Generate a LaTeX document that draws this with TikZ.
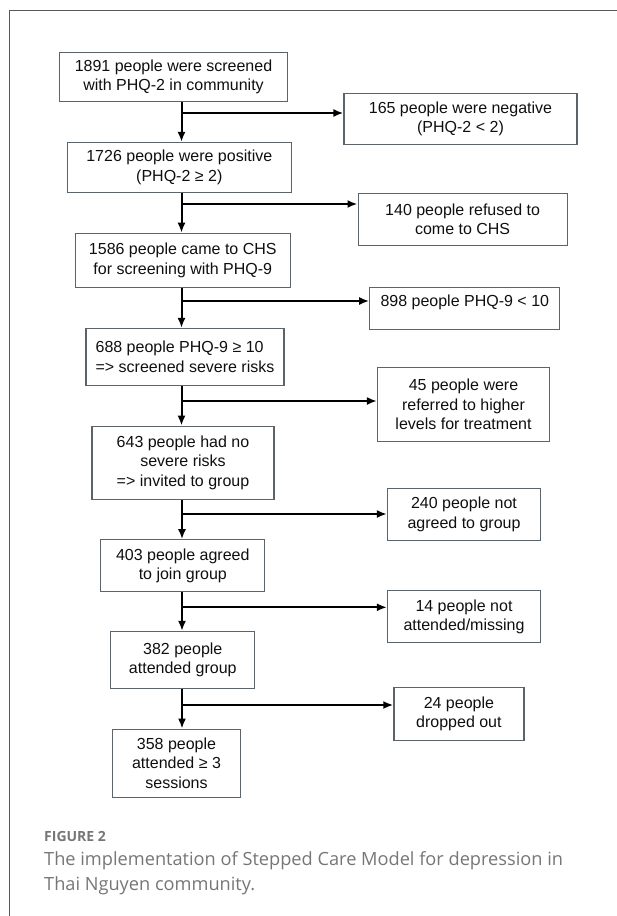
\documentclass[tikz,border=0pt]{standalone}
\usepackage{fontspec}
\setmainfont{Liberation Sans}
\newfontfamily\capfont{Open Sans}
\usepackage{tikz}
\usetikzlibrary{arrows.meta}

\definecolor{boxgray}{RGB}{90,100,106}
\definecolor{framegray}{RGB}{88,88,88}
\definecolor{capgray}{RGB}{118,118,118}
\definecolor{inkgray}{RGB}{15,15,15}

\begin{document}
\begin{tikzpicture}[x=1pt,y=-1pt,>={Latex[length=10pt,width=8pt]},
	box/.style={draw=boxgray,line width=1.2pt,inner sep=0pt,align=center,text=inkgray,font=\fontsize{16}{19.5}\selectfont},
	flow/.style={line width=2pt,->}]
	\useasboundingbox (0,0) rectangle (617,916);
	\draw[framegray,line width=1.3pt] (9.5,916)--(9.5,10.5)--(617,10.5);	%frame

	%left column
	\node[box,minimum width=228pt,minimum height=49pt] (s1) at (173.5,77)  {1891 people were screened\\with PHQ-2 in community};
	\node[box,minimum width=224pt,minimum height=50pt] (s2) at (179.3,167.5) {1726 people were positive\\(PHQ-2 ≥ 2)};
	\node[box,minimum width=215pt,minimum height=54pt] (s3) at (182.8,260.3) {1586 people came to CHS\\for screening with PHQ-9};
	\node[box,minimum width=198pt,minimum height=57pt,align=left] (s4) at (185,357) {688 people PHQ-9 ≥ 10\\=> screened severe risks};
	\node[box,minimum width=182pt,minimum height=73pt] (s5) at (183,462.7) {643 people had no\\severe risks\\=> invited to group};
	\node[box,minimum width=164pt,minimum height=52pt] (s6) at (182.8,565.8) {403 people agreed\\to join group};
	\node[box,minimum width=144pt,minimum height=57pt] (s7) at (182.8,660)   {382 people\\attended group};
	\node[box,minimum width=128pt,minimum height=68pt] (s8) at (176.5,763.2) {358 people\\attended ≥ 3\\sessions};

	%right column
	\node[box,minimum width=233pt,minimum height=51pt] (e1) at (460.5,118.8) {165 people were negative\\(PHQ-2 < 2)};
	\node[box,minimum width=209pt,minimum height=52pt] (e2) at (462.6,219.2) {140 people refused to\\come to CHS};
	\node[box,minimum width=190pt,minimum height=42pt,text height=12pt,text depth=16pt] (e3) at (464.8,308.3) {898 people PHQ-9 < 10};
	\node[box,minimum width=172pt,minimum height=74pt] (e4) at (463.5,404.5) {45 people were\\referred to higher\\levels for treatment};
	\node[box,minimum width=153pt,minimum height=52pt] (e5) at (464,514.5)   {240 people not\\agreed to group};
	\node[box,minimum width=153pt,minimum height=52pt] (e6) at (464,616.7)   {14 people not\\attended/missing};
	\node[box,minimum width=130pt,minimum height=53pt] (e7) at (458.9,713.7) {24 people\\dropped out};

	%branch points on the spine
	\coordinate (b1) at (181.5,113);
	\coordinate (b2) at (181.5,204);
	\coordinate (b3) at (181.5,301);
	\coordinate (b4) at (181.5,401);
	\coordinate (b5) at (182,514);
	\coordinate (b6) at (182,607.3);
	\coordinate (b7) at (182,705);

	\foreach \i/\j in {1/2,2/3,3/4,4/5,5/6,6/7,7/8}{
		\draw[flow] (b\i |- s\i.south)--(b\i |- s\j.north);	%down
		\draw[flow] (b\i)--(b\i -| e\i.west);					%out
	}

	%caption
	\node[anchor=base west,text=capgray,inner sep=0pt,font=\capfont\bfseries\fontsize{14}{16}\selectfont] (fig) at (44,841) {FIGURE 2};
	\node[anchor=base west,text=capgray,align=left,inner sep=0pt,font=\capfont\fontsize{18.2}{25}\selectfont] (cap) at (44,890) {The implementation of Stepped Care Model for depression in\\Thai Nguyen community.};
\end{tikzpicture}
\end{document}
